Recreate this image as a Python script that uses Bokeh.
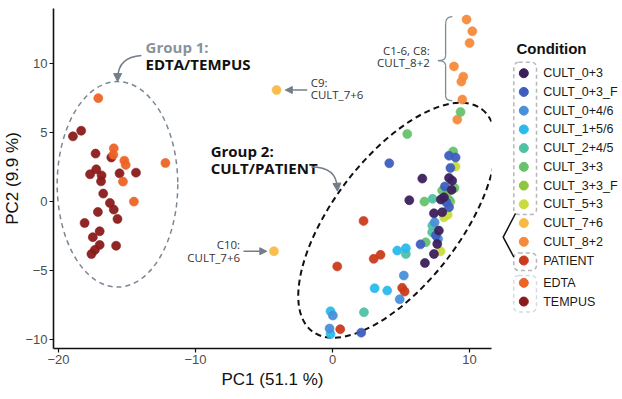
from bokeh.plotting import figure
from bokeh.layouts import row
from bokeh.models import Range1d, FixedTicker, Arrow, NormalHead, BoxAnnotation
from bokeh.core.properties import value
from bokeh.embed import file_html
from bokeh.resources import INLINE

# ---------------- data ----------------
conditions = ["CULT_0+3", "CULT_0+3_F", "CULT_0+4/6", "CULT_1+5/6", "CULT_2+4/5",
              "CULT_3+3", "CULT_3+3_F", "CULT_5+3", "CULT_7+6", "CULT_8+2",
              "PATIENT", "EDTA", "TEMPUS"]
colors = ["#3B1F5C", "#3D5EBF", "#4A8FD9", "#2BB9EE", "#4FC2A3", "#66C36A", "#8DC63F",
          "#C9DC3B", "#F9BA45", "#F68A3B", "#CA3A1B", "#EC6426", "#8B1A1A"]

pc1_cult_0_3 = [6.55, 5.6, 8.5, 8.73, 8.69, 8.13, 7.9, 8.0, 7.4, 7.76, 7.64, 7.4, 6.74]
pc2_cult_0_3 = [1.67, 0.1, 1.72, 1.52, 0.85, 0.31, 0.15, -0.77, -0.85, -2.1, -3.07, -3.8, -4.45]
pc1_cult_0_3_f = [4.14, 8.5, 8.98, 8.6, 8.2, 8.5, 8.3, 7.54, 6.42, 2.09]
pc2_cult_0_3_f = [2.78, 3.33, 3.2, 2.44, 1.1, -0.41, -0.05, -2.46, -3.1, -9.5]
pc1_cult_0_4_6 = [5.2, 4.9, 0.02, -0.22, 7.45, 7.7]
pc2_cult_0_4_6 = [-5.36, -7.08, -8.26, -9.2, -1.5, -2.7]
pc1_cult_1_5_6 = [4.72, 5.35, 3.07, 3.99, -0.15, -0.15]
pc2_cult_1_5_6 = [-3.55, -3.38, -6.28, -6.45, -7.95, -9.6]
pc1_cult_2_4_5 = [7.3, 5.35, 7.27, 2.29, 7.28]
pc2_cult_2_4_5 = [0.2, -3.8, -2.22, -8.02, -1.74]
pc1_cult_3_3 = [5.45, 6.7, 8.8, 8.9, 8.0, 6.8, 9.34, 8.5]
pc2_cult_3_3 = [4.9, 0.0, 3.64, 0.99, 0.8, -2.95, 6.5, 0.12]
pc1_cult_3_3_f = [8.3, 8.6]
pc2_cult_3_3_f = [0.5, 0.0]
pc1_cult_5_3 = [8.98, 8.13, 8.4, 7.88]
pc2_cult_5_3 = [2.54, -1.14, -0.95, -3.6]
pc1_cult_7_6 = [-4.09, -4.28]
pc2_cult_7_6 = [8.09, -3.6]
pc1_cult_8_2 = [9.78, 10.2, 10.0, 8.86, 9.54, 9.4, 9.47, 9.1]
pc2_cult_8_2 = [13.2, 12.35, 11.5, 9.8, 9.06, 8.7, 7.4, 5.94]
pc1_patient = [2.26, 3.0, 3.5, 0.34, 5.08, 5.26, 0.56]
pc2_patient = [-1.4, -4.15, -3.86, -4.7, -6.25, -6.52, -9.25]
pc1_edta = [-17.1, -15.97, -16.0, -15.2, -15.1, -12.2, -15.3, -14.5]
pc2_edta = [7.5, 3.86, 3.4, 2.97, 2.66, 2.8, 1.45, 0.0]
pc1_tempus = [-18.95, -18.35, -17.3, -16.15, -17.25, -17.7, -16.86, -16.9, -15.55, -14.35, -16.74,
              -16.25, -15.97, -17.13, -15.7, -18.1, -17.0, -17.5, -17.0, -17.35, -17.6, -15.8]
pc2_tempus = [4.73, 5.14, 3.48, 3.2, 2.34, 1.98, 1.9, 1.47, 2.05, 2.1, 0.58,
              -0.1, -0.58, -0.75, -1.26, -1.55, -2.15, -2.58, -3.14, -3.5, -3.8, -3.2]

series_x = [pc1_cult_0_3, pc1_cult_0_3_f, pc1_cult_0_4_6, pc1_cult_1_5_6, pc1_cult_2_4_5,
            pc1_cult_3_3, pc1_cult_3_3_f, pc1_cult_5_3, pc1_cult_7_6, pc1_cult_8_2,
            pc1_patient, pc1_edta, pc1_tempus]
series_y = [pc2_cult_0_3, pc2_cult_0_3_f, pc2_cult_0_4_6, pc2_cult_1_5_6, pc2_cult_2_4_5,
            pc2_cult_3_3, pc2_cult_3_3_f, pc2_cult_5_3, pc2_cult_7_6, pc2_cult_8_2,
            pc2_patient, pc2_edta, pc2_tempus]

x_ticks = [-20, -10, 0, 10]
y_ticks = [-10, -5, 0, 5, 10]

ANN_FONT = value("Open Sans")
GRAY = "#737E89"

# ---------------- main plot ----------------
p = figure(width=496, height=391, x_range=Range1d(-20.37, 11.6), y_range=Range1d(-10.65, 14.0),
           output_backend="svg", toolbar_location=None,
           min_border_left=53, min_border_right=5, min_border_top=8, min_border_bottom=43)
p.outline_line_color = None
p.grid.visible = False
p.background_fill_color = "white"
p.border_fill_color = "white"

for ax in (p.xaxis[0], p.yaxis[0]):
    ax.axis_line_color = "#111111"
    ax.axis_line_width = 1.6
    ax.major_tick_line_color = "#111111"
    ax.major_tick_line_width = 1.2
    ax.major_tick_out = 4
    ax.major_tick_in = 0
    ax.minor_tick_line_color = None
    ax.major_label_text_font = "Liberation Sans"
    ax.major_label_text_font_size = "13px"
    ax.major_label_text_color = "#4D4D4D"
    ax.major_label_standoff = 2
    ax.axis_label_text_font = "Liberation Sans"
    ax.axis_label_text_font_size = "17px"
    ax.axis_label_text_font_style = "normal"
    ax.axis_label_text_color = "#111111"

p.xaxis.ticker = FixedTicker(ticks=x_ticks)
p.yaxis.ticker = FixedTicker(ticks=y_ticks)
p.xaxis.axis_label = "PC1 (51.1 %)"
p.xaxis.axis_label_standoff = 3
p.yaxis.axis_label = "PC2 (9.9 %)"
p.yaxis.axis_label_standoff = 0
p.yaxis.axis_label_text_baseline = "bottom"

# group ellipses
p.ellipse(x=[-15.7], y=[1.25], width=[8.8], height=[14.9], fill_color=None,
          line_color="#7A8793", line_width=1.5, line_dash="5 4")
p.ellipse(x=[4.7], y=[-1.35], width=[20.4], height=[9.2], angle=[52.6], angle_units="deg",
          fill_color=None, line_color="#111111", line_width=2, line_dash="6 4")

# points
for xs, ys, c in zip(reversed(series_x), reversed(series_y), reversed(colors)):
    p.scatter(xs, ys, size=9, fill_color=c, line_color=c, fill_alpha=0.95, line_alpha=0.6)

# annotations: group labels
p.text(x=[-13.65], y=[11.23], text=["Group 1:"], text_font=ANN_FONT, text_font_style="bold",
       text_font_size="15px", text_color="#8A9299", text_baseline="middle")
p.text(x=[-13.65], y=[10.0], text=["EDTA/TEMPUS"], text_font=ANN_FONT, text_font_style="bold",
       text_font_size="15px", text_color="#111111", text_baseline="middle")
p.text(x=[-8.9], y=[3.64], text=["Group 2:"], text_font=ANN_FONT, text_font_style="bold",
       text_font_size="15px", text_color="#111111", text_baseline="middle")
p.text(x=[-8.9], y=[2.44], text=["CULT/PATIENT"], text_font=ANN_FONT, text_font_style="bold",
       text_font_size="15px", text_color="#111111", text_baseline="middle")

# curved arrows
p.quadratic(x0=[-13.95], y0=[10.6], x1=[-15.69], y1=[8.95], cx=[-15.65], cy=[10.5],
            line_color=GRAY, line_width=1.5)
p.add_layout(Arrow(end=NormalHead(size=8, fill_color=GRAY, line_color=GRAY),
                   x_start=-15.69, y_start=9.1, x_end=-15.69, y_end=8.7,
                   line_color=GRAY, line_width=1.5))
p.quadratic(x0=[-1.55], y0=[2.5], x1=[0.33], y1=[1.0], cx=[0.3], cy=[2.5],
            line_color=GRAY, line_width=1.5)
p.add_layout(Arrow(end=NormalHead(size=8, fill_color=GRAY, line_color=GRAY),
                   x_start=0.33, y_start=1.15, x_end=0.36, y_end=0.75,
                   line_color=GRAY, line_width=1.5))

# C9 / C10 labels
small = dict(text_font=ANN_FONT, text_font_size="11.5px", text_color="#333333", text_baseline="middle")
p.text(x=[-1.6, -1.6], y=[8.65, 7.75], text=["C9:", "CULT_7+6"], **small)
p.text(x=[-6.75, -6.75], y=[-3.12, -4.06], text=["C10:", "CULT_7+6"], text_align="right", **small)
p.add_layout(Arrow(end=NormalHead(size=7, fill_color=GRAY, line_color=GRAY),
                   x_start=-1.85, y_start=8.09, x_end=-3.45, y_end=8.09,
                   line_color=GRAY, line_width=1.5))
p.add_layout(Arrow(end=NormalHead(size=7, fill_color=GRAY, line_color=GRAY),
                   x_start=-6.5, y_start=-3.6, x_end=-4.8, y_end=-3.6,
                   line_color=GRAY, line_width=1.5))

# C1-6, C8 label and brace
p.text(x=[7.1, 7.1], y=[10.94, 10.07], text=["C1-6, C8:", "CULT_8+2"], text_align="right", **small)
bx = 8.25
p.quadratic(x0=[8.74, bx, 7.69, bx], y0=[13.41, 10.58, 10.22, 7.68],
            x1=[bx, 7.69, bx, 8.74], y1=[12.9, 10.22, 9.86, 7.32],
            cx=[bx, bx, bx, bx], cy=[13.41, 10.22, 10.22, 7.32],
            line_color="#7D8A96", line_width=1.3)
p.segment(x0=[bx, bx], y0=[12.9, 9.86], x1=[bx, bx], y1=[10.58, 7.68],
          line_color="#7D8A96", line_width=1.3)

# ---------------- legend panel ----------------
# frame of this panel is aligned with the main frame (page y 8..348)
leg = figure(width=124, height=391, x_range=Range1d(496, 620), y_range=Range1d(348, 8),
             output_backend="svg", toolbar_location=None, x_axis_type=None, y_axis_type=None,
             min_border_left=0, min_border_right=0, min_border_top=8, min_border_bottom=43)
leg.outline_line_color = None
leg.grid.visible = False

row_y = [72.7 + 18.73 * i + (3.6 if i >= 11 else 0) for i in range(len(conditions))]
leg.scatter([523.3] * len(conditions), row_y, size=9, fill_color=colors, line_color=colors)
leg.text(x=[542.7] * len(conditions), y=row_y, text=conditions, text_font=value("Liberation Sans"),
         text_font_size="12.5px", text_color="#1A1A1A", text_baseline="middle")
leg.text(x=[516], y=[48], text=["Condition"], text_font=value("Liberation Sans"),
         text_font_style="bold", text_font_size="15px", text_color="#111111", text_baseline="middle")

leg.add_layout(BoxAnnotation(left=513.3, right=536, top=61.7, bottom=214, fill_color=None,
                             line_color="#111111", line_width=1.5, line_dash="4 3", border_radius=5))
leg.add_layout(BoxAnnotation(left=513.3, right=536, top=252.5, bottom=270, fill_color=None,
                             line_color="#111111", line_width=1.5, line_dash="4 3", border_radius=5))
leg.add_layout(BoxAnnotation(left=513.3, right=536, top=275, bottom=311.5, fill_color=None,
                             line_color="#7A8793", line_width=1.5, line_dash="4 3", border_radius=5))
leg.line(x=[515, 502.7, 513.3], y=[213, 236.7, 256.5], line_color="#111111", line_width=1.5)

layout = row(p, leg)
open("out.html", "w").write(file_html(layout, INLINE))
